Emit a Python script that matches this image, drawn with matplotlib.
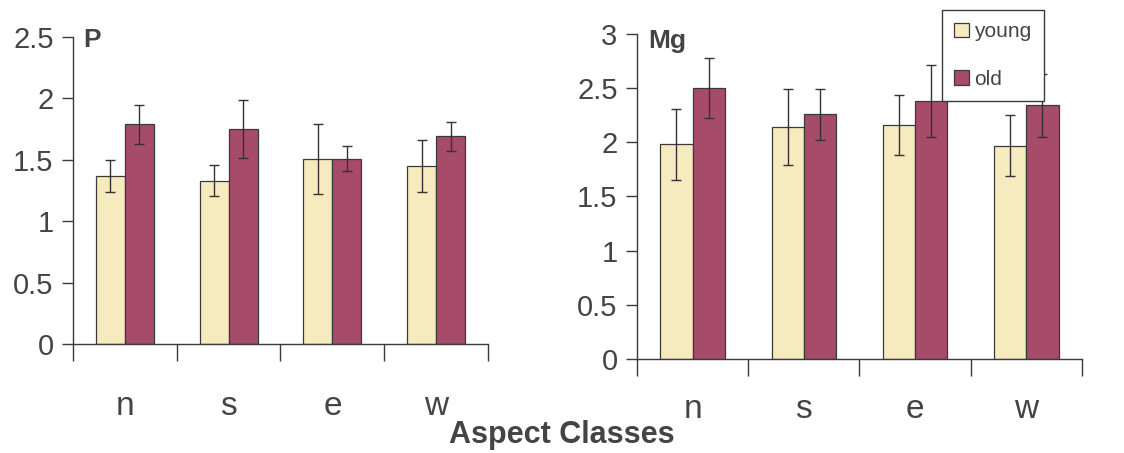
import numpy as np
import matplotlib
matplotlib.use("Agg")
import matplotlib.pyplot as plt
from matplotlib.patches import Patch

plt.rcParams['font.family'] = ['Liberation Sans', 'DejaVu Sans']

aspects = ["n", "s", "e", "w"]
series = ["young", "old"]

p_young = [1.37, 1.33, 1.51, 1.45]
p_young_err = [0.13, 0.125, 0.285, 0.21]
p_old = [1.79, 1.75, 1.51, 1.69]
p_old_err = [0.16, 0.235, 0.105, 0.12]

mg_young = [1.98, 2.14, 2.16, 1.97]
mg_young_err = [0.33, 0.35, 0.275, 0.285]
mg_old = [2.50, 2.26, 2.38, 2.34]
mg_old_err = [0.28, 0.235, 0.33, 0.29]

p_ticks = [0, 0.5, 1, 1.5, 2, 2.5]
mg_ticks = [0, 0.5, 1, 1.5, 2, 2.5, 3]

young_color = "#F6EABF"
old_color = "#A64B69"
edge = "#3a3a3a"
text_color = "#444444"

fig = plt.figure(figsize=(11.24, 4.53), dpi=100)
ax1 = fig.add_axes([0.0649, 0.2406, 0.3693, 0.6777])
ax2 = fig.add_axes([0.5667, 0.2075, 0.3959, 0.7175])


def draw(ax, young, young_err, old, old_err, ticks, label, width, xpad, label_y):
    x = np.arange(len(aspects))
    ax.bar(x - width / 2, young, width, color=young_color, edgecolor=edge,
           linewidth=0.9, label=series[0], zorder=2)
    ax.bar(x + width / 2, old, width, color=old_color, edgecolor=edge,
           linewidth=0.9, label=series[1], zorder=2)
    ax.errorbar(x - width / 2, young, yerr=young_err, fmt="none",
                ecolor="#333333", elinewidth=1.0, capsize=3.5, capthick=1.0, zorder=3)
    ax.errorbar(x + width / 2, old, yerr=old_err, fmt="none",
                ecolor="#333333", elinewidth=1.0, capsize=3.5, capthick=1.0, zorder=3)
    ax.set_xlim(-0.5, len(aspects) - 0.5)
    ax.set_ylim(0, ticks[-1])
    ax.set_yticks(ticks)
    ax.set_yticklabels([f"{t:g}" for t in ticks], fontsize=21, color=text_color)
    ax.set_xticks(x)
    ax.set_xticklabels(aspects, fontsize=24, color=text_color)
    ax.tick_params(axis="x", which="major", length=0, pad=xpad)
    ax.set_xticks(np.arange(len(aspects) + 1) - 0.5, minor=True)
    ax.tick_params(axis="x", which="minor", length=12, width=1.0, color=edge,
                   direction="out")
    ax.tick_params(axis="y", length=8, width=1.0, color=edge, pad=6)
    for s in ("top", "right"):
        ax.spines[s].set_visible(False)
    for s in ("left", "bottom"):
        ax.spines[s].set_color(edge)
        ax.spines[s].set_linewidth(1.0)
    ax.text(0.025, label_y, label, transform=ax.transAxes, fontsize=19,
            fontweight="bold", color=text_color, ha="left", va="top",
            clip_on=False)


draw(ax1, p_young, p_young_err, p_old, p_old_err, p_ticks, "P", 0.28, 34, 1.03)
draw(ax2, mg_young, mg_young_err, mg_old, mg_old_err, mg_ticks, "Mg", 0.29, 25, 1.015)

handles = [Patch(facecolor=young_color, edgecolor=edge, linewidth=0.9),
           Patch(facecolor=old_color, edgecolor=edge, linewidth=0.9)]
leg = ax2.legend(handles, series, loc="upper left",
                 bbox_to_anchor=(0.685, 1.074), fontsize=15, frameon=True,
                 fancybox=False, handlelength=0.7, handleheight=0.7,
                 handletextpad=0.25, labelspacing=1.35, borderpad=0.6,
                 borderaxespad=0.0, labelcolor=text_color, framealpha=1.0)
leg.get_frame().set_edgecolor(edge)
leg.get_frame().set_linewidth(1.0)
leg.set_zorder(5)

fig.text(0.4995, 0.04, "Aspect Classes", fontsize=22, fontweight="bold",
         color=text_color, ha="center", va="center")

fig.savefig("out.png", dpi=100, facecolor="white")
